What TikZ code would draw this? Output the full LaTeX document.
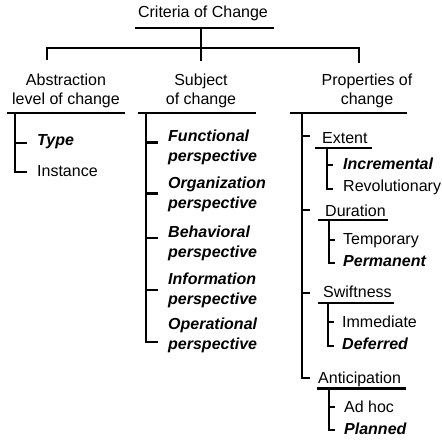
\documentclass[tikz,border=0pt]{standalone}
\usepackage{fontspec}
\setmainfont{Liberation Sans}

\begin{document}
\begin{tikzpicture}[x=1pt, y=-1pt, line width=2.4pt,
    lbl/.style={inner sep=0pt, font=\fontsize{16}{19.5}\selectfont},
    head/.style={lbl, align=center, anchor=north},
    leaf/.style={lbl, anchor=base west},
    pick/.style={leaf, font=\fontsize{16}{19.5}\selectfont\bfseries\itshape},
    persp/.style={lbl, align=left, anchor=north west, font=\fontsize{16}{20.5}\selectfont\bfseries\itshape}]
    \useasboundingbox (0, 0) rectangle (442, 442);

    % root
    \node [leaf, anchor=base] (crit) at (203, 17.5) {Criteria of Change};
    \coordinate (critL) at (135, 28);
    \coordinate (critR) at (274, 28);
    \coordinate (hubT) at (201, 28);
    \coordinate (hubB) at (201, 61);
    \coordinate (barL) at (47, 48);
    \coordinate (barR) at (359, 48);
    \coordinate (dropL) at (47, 60);
    \coordinate (dropR) at (359, 63);
    \draw (critL) -- (critR);
    \draw (hubT) -- (hubB);
    \draw (dropL) |- (barR) -- (dropR);

    % three criteria
    \node [head] (abs) at (66, 72.7) {Abstraction\\level of change};
    \node [head] (subj) at (201, 72.7) {Subject\\of change};
    \node [head] (prop) at (367, 72.7) {Properties of\\change};
    \coordinate (absL) at (7, 113);
    \coordinate (absR) at (125, 113);
    \coordinate (subjL) at (138, 113);
    \coordinate (subjR) at (256, 113);
    \coordinate (propL) at (290, 113);
    \coordinate (propR) at (407, 113);
    \draw (absL) -- (absR);
    \draw (subjL) -- (subjR);
    \draw (propL) -- (propR);

    % abstraction level
    \node [pick] (type) at (36, 145.7) {Type};
    \node [leaf] (inst) at (36, 176.7) {Instance};
    \coordinate (absV) at (15, 113);
    \coordinate (tType) at (27, 142.7);
    \coordinate (tInst) at (27, 171.7);
    \draw (absV) |- (tInst);
    \draw (absV |- tType) -- (tType);

    % subject
    \node [persp] (func) at (167, 128.3) {Functional\\perspective};
    \node [persp] (org) at (167, 175.7) {Organization\\perspective};
    \node [persp] (beh) at (167, 224.5) {Behavioral\\perspective};
    \node [persp] (info) at (167, 271.7) {Information\\perspective};
    \node [persp] (oper) at (167, 316.7) {Operational\\perspective};
    \coordinate (subjV) at (146, 113);
    \coordinate (tFunc) at (158, 142.5);
    \coordinate (tOrg) at (158, 193.3);
    \coordinate (tBeh) at (158, 238);
    \coordinate (tInfo) at (158, 290);
    \coordinate (tOper) at (158, 342);
    \draw (subjV) |- (tOper);
    \foreach \t in {tFunc, tOrg, tBeh, tInfo}
      \draw (subjV |- \t) -- (\t);

    % properties
    \coordinate (propV) at (302, 113);
    \coordinate (tExt) at (310, 136);
    \coordinate (tDur) at (310, 210);
    \coordinate (tSwift) at (310, 293);
    \coordinate (tAnt) at (310, 378);
    \draw (propV) |- (tAnt);
    \foreach \t in {tExt, tDur, tSwift}
      \draw (propV |- \t) -- (\t);

    % extent
    \node [leaf] (ext) at (321, 143.3) {Extent};
    \node [pick] (incr) at (342, 169.3) {Incremental};
    \node [leaf] (revo) at (342, 191.5) {Revolutionary};
    \coordinate (extL) at (315, 148);
    \coordinate (extR) at (372, 148);
    \coordinate (extV) at (327, 148);
    \coordinate (tIncr) at (333, 165);
    \coordinate (tRevo) at (333, 189);
    \draw (extL) -- (extR);
    \draw (extV) |- (tRevo);
    \draw (extV |- tIncr) -- (tIncr);

    % duration
    \node [leaf] (dur) at (324, 216.3) {Duration};
    \node [leaf] (temp) at (342, 244.3) {Temporary};
    \node [pick] (perm) at (342, 266.7) {Permanent};
    \coordinate (durL) at (318, 220);
    \coordinate (durR) at (388, 220);
    \coordinate (durV) at (329, 220);
    \coordinate (tTemp) at (335, 240);
    \coordinate (tPerm) at (335, 263);
    \draw (durL) -- (durR);
    \draw (durV) |- (tPerm);
    \draw (durV |- tTemp) -- (tTemp);

    % swiftness
    \node [leaf] (swift) at (322, 297.3) {Swiftness};
    \node [leaf] (imm) at (341, 327.5) {Immediate};
    \node [pick] (defer) at (341, 349) {Deferred};
    \coordinate (swiftL) at (318, 303);
    \coordinate (swiftR) at (394, 303);
    \coordinate (swiftV) at (328, 303);
    \coordinate (tImm) at (334, 322);
    \coordinate (tDefer) at (334, 346);
    \draw (swiftL) -- (swiftR);
    \draw (swiftV) |- (tDefer);
    \draw (swiftV |- tImm) -- (tImm);

    % anticipation
    \node [leaf] (antic) at (317, 383.5) {Anticipation};
    \node [leaf] (adhoc) at (343, 412.7) {Ad hoc};
    \node [pick] (plan) at (343, 434) {Planned};
    \coordinate (anticL) at (317, 388.3);
    \coordinate (anticR) at (406, 388.3);
    \coordinate (anticV) at (329, 388.3);
    \coordinate (tAdhoc) at (335, 407);
    \coordinate (tPlan) at (335, 430);
    \draw (anticL) -- (anticR);
    \draw (anticV) |- (tPlan);
    \draw (anticV |- tAdhoc) -- (tAdhoc);
  \end{tikzpicture}
\end{document}
